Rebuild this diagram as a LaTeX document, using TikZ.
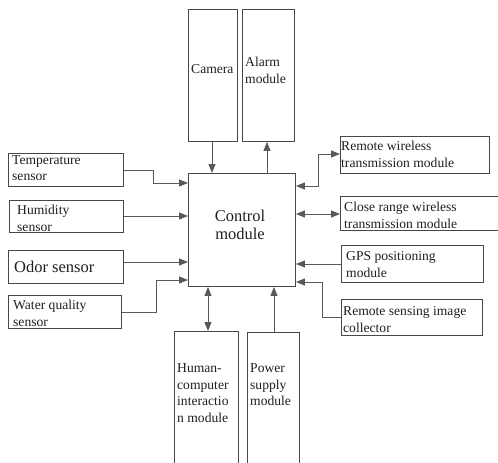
\documentclass[tikz,border=0pt]{standalone}
\usepackage{fontspec}
\setmainfont{Liberation Serif}
\usetikzlibrary{arrows.meta}
\begin{document}
\begin{tikzpicture}[x=1pt,y=-1pt,
  box/.style={draw=black!72,line width=0.9pt,inner sep=0pt,anchor=north west},
  % multi-line labels are placed by the baseline of their last line
  lbl/.style={anchor=base west,inner sep=0pt,align=left,text=black!88,
    font=\rmfamily\fontsize{13.6}{16.5}\selectfont},
  biglbl/.style={lbl,font=\rmfamily\fontsize{16.5}{18}\selectfont},
  link/.style={draw=black!65,line width=0.8pt},
  arr/.style={link,-{Triangle[length=9pt,width=7pt]}},
  darr/.style={link,{Triangle[length=9pt,width=7pt]}-{Triangle[length=9pt,width=7pt]}}]
\useasboundingbox (0,0) rectangle (498,463);
\clip (0,0) rectangle (498,463);

% central block
\node[box,minimum width=107pt,minimum height=113pt] (ctrl) at (188,173) {};
\node[biglbl,anchor=base,align=center] at (240,239) {Control\\module};

% top modules
\node[box,minimum width=49pt,minimum height=132pt] (cam) at (188,9) {};
\node[box,minimum width=52pt,minimum height=132pt] (alarm) at (242,9) {};
\node[lbl] at (191,73.5) {Camera};
\node[lbl] at (245,83) {Alarm\\module};

% bottom modules
\node[box,minimum width=64pt,minimum height=150pt] (hci) at (174,331) {};
\node[box,minimum width=52pt,minimum height=150pt] (power) at (247,332) {};
\node[lbl] at (177,422) {Human-\\computer\\interactio\\n module};
\node[lbl] at (250,405.5) {Power\\supply\\module};

% sensors on the left
\node[box,minimum width=115pt,minimum height=33pt] (temp) at (8,153) {};
\node[box,minimum width=114pt,minimum height=32pt] (hum) at (9,200) {};
\node[box,minimum width=115pt,minimum height=33pt] (odor) at (8,250) {};
\node[box,minimum width=113pt,minimum height=33pt] (water) at (8,295) {};
\node[lbl] at (12,180.5) {Temperature\\sensor};
\node[lbl] at (17,231) {Humidity\\sensor};
\node[lbl,font=\rmfamily\fontsize{16.5}{18}\selectfont] at (14,272) {Odor sensor};
\node[lbl] at (13,326) {Water quality\\sensor};

% modules on the right
\node[box,minimum width=149pt,minimum height=37pt] (rwt) at (340,136) {};
\node[box,minimum width=170pt,minimum height=34pt] (crwt) at (340,196) {};
\node[box,minimum width=142pt,minimum height=37pt] (gps) at (341,245) {};
\node[box,minimum width=141pt,minimum height=36pt] (rsic) at (341,299) {};
\node[lbl] at (341,167) {Remote wireless\\transmission module};
\node[lbl] at (344,228) {Close range wireless\\transmission module};
\node[lbl] at (346,277) {GPS positioning\\module};
\node[lbl] at (343,332) {Remote sensing image\\collector};

% bend points
\coordinate (tb) at (153,183);
\coordinate (wb) at (156,280);
\coordinate (rb) at (318,186);
\coordinate (sb) at (322,282);

% connectors
\draw[arr] (cam.south -| 212,0) -- (ctrl.north -| 212,0);
\draw[arr] (ctrl.north -| 267,0) -- (alarm.south -| 267,0);
\draw[darr] (ctrl.south -| 208,0) -- (hci.north -| 208,0);
\draw[arr] (power.north -| 274,0) -- (ctrl.south -| 274,0);

\draw[arr] (temp.east) -| (tb) -- (ctrl.west |- tb);
\draw[arr] (hum.east |- 0,216) -- (ctrl.west |- 0,216);
\draw[arr] (odor.east |- 0,262) -- (ctrl.west |- 0,262);
\draw[arr] (water.east |- 0,312) -| (wb) -- (ctrl.west |- wb);

\draw[darr] (ctrl.east |- rb) -- (rb) |- (rwt.west |- 0,154);
\draw[darr] (ctrl.east |- 0,214) -- (crwt.west |- 0,214);
\draw[arr] (gps.west |- 0,264) -- (ctrl.east |- 0,264);
\draw[arr] (rsic.west |- 0,317) -| (sb) -- (ctrl.east |- sb);
\end{tikzpicture}
\end{document}
